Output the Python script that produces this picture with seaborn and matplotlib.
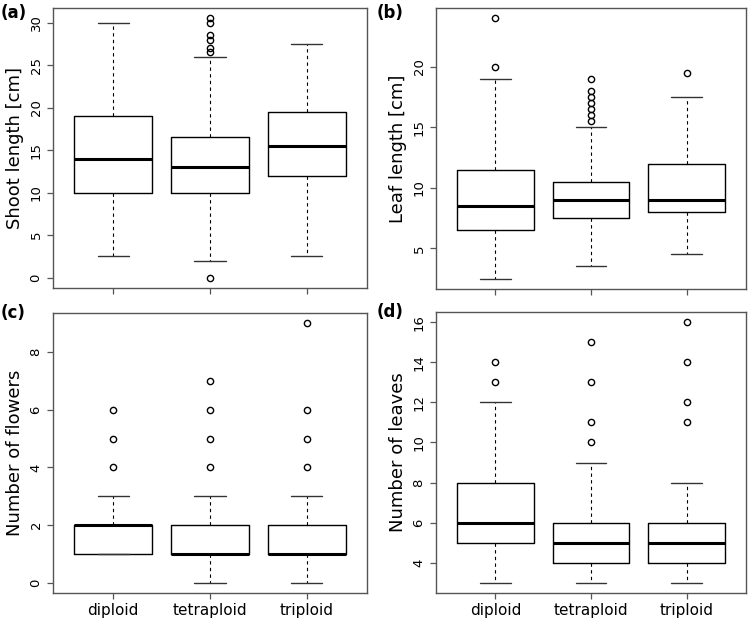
import seaborn as sns
import matplotlib
matplotlib.use("Agg")
import matplotlib.pyplot as plt

# groups on the x axis
groups = ["diploid", "tetraploid", "triploid"]

# (a) shoot length [cm] : whisker low, q1, median, q3, whisker high, outliers
shoot_lo = [2.5, 2.0, 2.5]
shoot_q1 = [10, 10, 12]
shoot_med = [14, 13, 15.5]
shoot_q3 = [19, 16.5, 19.5]
shoot_hi = [30, 26, 27.5]
shoot_out = [[], [0, 26.5, 27, 28, 28.5, 30, 30.5], []]

# (b) leaf length [cm]
leaf_lo = [2.5, 3.5, 4.5]
leaf_q1 = [6.5, 7.5, 8]
leaf_med = [8.5, 9, 9]
leaf_q3 = [11.5, 10.5, 12]
leaf_hi = [19, 15, 17.5]
leaf_out = [[20, 24], [15.5, 16, 16.5, 17, 17.5, 18, 19], [19.5]]

# (c) number of flowers
flow_lo = [1, 0, 0]
flow_q1 = [1, 1, 1]
flow_med = [2, 1, 1]
flow_q3 = [2, 2, 2]
flow_hi = [3, 3, 3]
flow_out = [[4, 5, 6], [4, 5, 6, 7], [4, 5, 6, 9]]

# (d) number of leaves
nleaf_lo = [3, 3, 3]
nleaf_q1 = [5, 4, 4]
nleaf_med = [6, 5, 5]
nleaf_q3 = [8, 6, 6]
nleaf_hi = [12, 9, 8]
nleaf_out = [[13, 14], [10, 11, 13, 15], [11, 12, 14, 16]]


def make_stats(lo, q1, med, q3, hi, out):
    stats = []
    for i in range(len(groups)):
        stats.append(dict(label=groups[i], whislo=lo[i], q1=q1[i], med=med[i],
                          q3=q3[i], whishi=hi[i], fliers=out[i]))
    return stats


def r_ylim(lo, hi):
    # R pads the data range by 4% on each side
    ext = (hi - lo) * 0.04
    return lo - ext, hi + ext


sns.set_theme(style="white")
plt.rcParams['font.family'] = ['DejaVu Sans']
plt.rcParams['text.color'] = 'black'
plt.rcParams['axes.labelcolor'] = 'black'

fig = plt.figure(figsize=(7.5, 6.19), dpi=100)

W, H = 750, 619
def box(x0, x1, y0, y1):
    return [x0 / W, 1 - y1 / H, (x1 - x0) / W, (y1 - y0) / H]

panels = [
    ("(a)", "Shoot length [cm]", make_stats(shoot_lo, shoot_q1, shoot_med, shoot_q3, shoot_hi, shoot_out),
     [0, 5, 10, 15, 20, 25, 30], box(53, 367, 8, 288), False, (1, 13)),
    ("(b)", "Leaf length [cm]", make_stats(leaf_lo, leaf_q1, leaf_med, leaf_q3, leaf_hi, leaf_out),
     [5, 10, 15, 20], box(436, 746, 8, 289), False, (377, 13)),
    ("(c)", "Number of flowers", make_stats(flow_lo, flow_q1, flow_med, flow_q3, flow_hi, flow_out),
     [0, 2, 4, 6, 8], box(53, 367, 313, 593), True, (1, 313)),
    ("(d)", "Number of leaves", make_stats(nleaf_lo, nleaf_q1, nleaf_med, nleaf_q3, nleaf_hi, nleaf_out),
     [4, 6, 8, 10, 12, 14, 16], box(436, 746, 312, 593), True, (377, 312)),
]

frame_col = "#555555"

for tag, ylab, stats, yticks, rect, show_x, tagpos in panels:
    ax = fig.add_axes(rect)
    ax.bxp(stats, positions=[1, 2, 3], widths=0.8, capwidths=0.32,
           boxprops=dict(color="black", lw=1.0),
           medianprops=dict(color="black", lw=2.2),
           whiskerprops=dict(color="black", lw=0.8, linestyle=(0, (3, 3))),
           capprops=dict(color="#333333", lw=1.0),
           flierprops=dict(marker="o", markerfacecolor="none", markeredgecolor="black",
                           markersize=4.5, markeredgewidth=1.0))
    lows = [s["whislo"] for s in stats] + [v for s in stats for v in s["fliers"]]
    highs = [s["whishi"] for s in stats] + [v for s in stats for v in s["fliers"]]
    ax.set_ylim(*r_ylim(min(lows), max(highs)))
    ax.set_xlim(0.38, 3.62)
    ax.set_yticks(yticks)
    ax.set_yticklabels([str(t) for t in yticks], rotation=90, va="center", fontsize=9.5)
    ax.set_xticks([1, 2, 3])
    if show_x:
        ax.set_xticklabels(groups, fontsize=11)
    else:
        ax.set_xticklabels([])
    ax.set_ylabel(ylab, fontsize=13, labelpad=4)
    ax.tick_params(direction="out", length=4.5, width=0.9, color=frame_col, pad=3,
                   labelcolor="black", bottom=True, left=True)
    for sp in ax.spines.values():
        sp.set_color(frame_col)
        sp.set_linewidth(1.0)
    ax.grid(False)
    fig.text(tagpos[0] / W, 1 - tagpos[1] / H, tag, fontsize=12, fontweight="bold",
             ha="left", va="center")

fig.savefig("out.png", dpi=100)
